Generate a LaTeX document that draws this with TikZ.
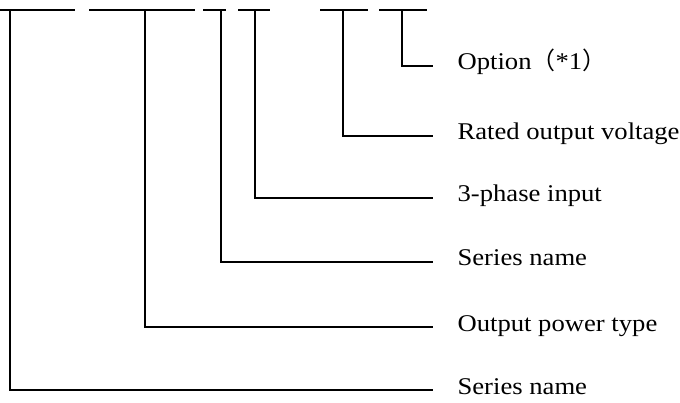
\documentclass[tikz,border=0pt]{standalone}
\usepackage{fontspec}
\setmainfont[FakeStretch=1.11]{Liberation Serif}
\newfontfamily\cjk{Noto Sans CJK JP}
\usepackage{tikz}

\begin{document}
\begin{tikzpicture}[x=1pt, y=-1pt, line width=1.2pt,
    lbl/.style={font=\fontsize{24}{28}\selectfont, inner sep=0pt, anchor=base west}]
    \useasboundingbox (0,0) rectangle (680,403);

    % ---------- code bars along the top ----------
    \draw (0,10) -- (75,10);
    \draw (89,10) -- (195,10);
    \draw (203,10) -- (226,10);
    \draw (238,10) -- (270,10);
    \draw (320,10) -- (368,10);
    \draw (379,10) -- (427,10);

    % tick points under each bar
    \coordinate (t1) at (10,10);
    \coordinate (t2) at (145,10);
    \coordinate (t3) at (221,10);
    \coordinate (t4) at (255,10);
    \coordinate (t5) at (343,10);
    \coordinate (t6) at (402,10);

    % line ends in front of the labels
    \coordinate (e1) at (433,390);
    \coordinate (e2) at (433,327);
    \coordinate (e3) at (433,262);
    \coordinate (e4) at (433,198);
    \coordinate (e5) at (433,136);
    \coordinate (e6) at (433,66);

    % ---------- labels ----------
    \node[lbl] (sername) at (457,394) {Series name};
    \node[lbl] (outtype) at (457,331) {Output power type};
    \node[lbl] (sername2) at (457,266) {Series name};
    \node[lbl] (phase) at (457,202) {3-phase input};
    \node[lbl] (voltage) at (457,140) {Rated output voltage};
    \node[lbl] (option) at (457,70) {Option{\cjk （}*1{\cjk ）}};

    % ---------- leaders ----------
    \draw (t1) |- (e1);
    \draw (t2) |- (e2);
    \draw (t3) |- (e3);
    \draw (t4) |- (e4);
    \draw (t5) |- (e5);
    \draw (t6) |- (e6);
\end{tikzpicture}
\end{document}
